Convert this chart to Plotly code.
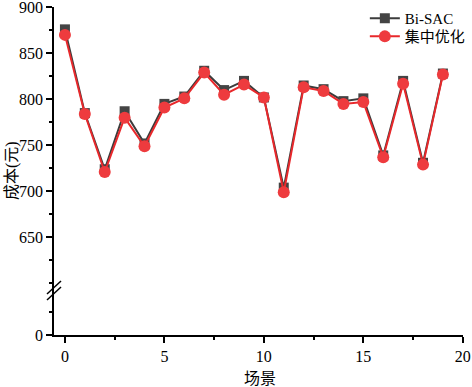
import plotly.graph_objects as go

scenes = list(range(20))
bisac = [876, 785, 724, 787, 752, 795, 803, 831, 810, 820, 802, 704, 815, 811, 798, 801, 739, 820, 731, 828]
central = [870, 784, 721, 780, 749, 791, 801, 829, 805, 816, 802, 699, 813, 809, 795, 797, 737, 817, 729, 827]

y_upper_ticks = [650, 700, 750, 800, 850, 900]
x_ticks = [0, 5, 10, 15, 20]

FONT = "Liberation Serif, Times New Roman, Noto Sans CJK SC, serif"

fig = go.Figure()
fig.add_trace(go.Scatter(x=scenes, y=bisac, mode="lines+markers", name="Bi-SAC",
                         line=dict(color="#3c3c3c", width=2),
                         marker=dict(symbol="square", size=10, color="#444444"),
                         xaxis="x", yaxis="y", cliponaxis=False, legend="legend"))
fig.add_trace(go.Scatter(x=scenes, y=central, mode="lines+markers", name="集中优化",
                         line=dict(color="#e8282b", width=2),
                         marker=dict(symbol="circle", size=12, color="#ee3b3e"),
                         xaxis="x", yaxis="y", cliponaxis=False, legend="legend2"))
# invisible trace on lower axis so that it is drawn
fig.add_trace(go.Scatter(x=[0], y=[-100], mode="markers", showlegend=False,
                         marker=dict(opacity=0), hoverinfo="skip", xaxis="x", yaxis="y2"))

split = 48 / 328.0

common = dict(showline=True, linecolor="black", linewidth=1.5,
              ticks="outside", ticklen=6, tickwidth=1.5, tickcolor="black",
              showgrid=False, zeroline=False, tickfont=dict(size=16), automargin=False,
              ticklabeloverflow="allow")

leg = dict(xanchor="left", yanchor="top", bgcolor="rgba(0,0,0,0)",
           font=dict(size=15, family=FONT), itemwidth=30)

fig.update_layout(
    width=472, height=387,
    margin=dict(l=54, r=9, t=7, b=52, autoexpand=False),
    paper_bgcolor="white", plot_bgcolor="white",
    font=dict(family=FONT, size=16, color="black"),
    showlegend=True,
    legend=dict(x=0.760, y=1.015, **leg),
    legend2=dict(x=0.760, y=0.960, **leg),
    xaxis=dict(range=[-0.55, 20.01], anchor="y2", domain=[0, 1],
               tickvals=x_ticks, ticktext=[str(v) for v in x_ticks],
               minor=dict(ticks="outside", ticklen=3, tickwidth=1.5, dtick=2.5, tick0=0, tickcolor="black"),
               **common),
    yaxis=dict(range=[596, 900.3], domain=[split, 1], anchor="x",
               tickvals=y_upper_ticks, ticktext=[str(v) for v in y_upper_ticks],
               minor=dict(ticks="outside", ticklen=3, tickwidth=1.5, dtick=25, tick0=0, tickcolor="black"),
               **common),
    yaxis2=dict(range=[0, 52], domain=[0, split], anchor="x",
                tickvals=[0], ticktext=["0"],
                minor=dict(ticks="outside", ticklen=3, tickwidth=1.5, tickvals=[25], tickcolor="black"),
                **common),
)

W, H = 409.0, 328.0
def px(x):
    return (x - 54) / W
def py(y):
    return (335 - y) / H

for dy in (0, 6):
    fig.add_shape(type="line", xref="paper", yref="paper",
                  x0=px(47), y0=py(294 + dy), x1=px(61), y1=py(281 + dy),
                  line=dict(color="black", width=1.5))

fig.add_annotation(text="成本(元)", xref="paper", yref="paper",
                   x=px(12), y=py(171), xanchor="center", yanchor="middle",
                   showarrow=False, textangle=-90,
                   font=dict(size=16, family=FONT))
fig.add_annotation(text="场景", xref="paper", yref="paper",
                   x=px(260), y=py(378), xanchor="center", yanchor="middle",
                   showarrow=False,
                   font=dict(size=16, family=FONT))

fig.write_html("out.html", config={"displayModeBar": False},
               post_script="document.body.style.margin='0';document.body.style.padding='0';")
